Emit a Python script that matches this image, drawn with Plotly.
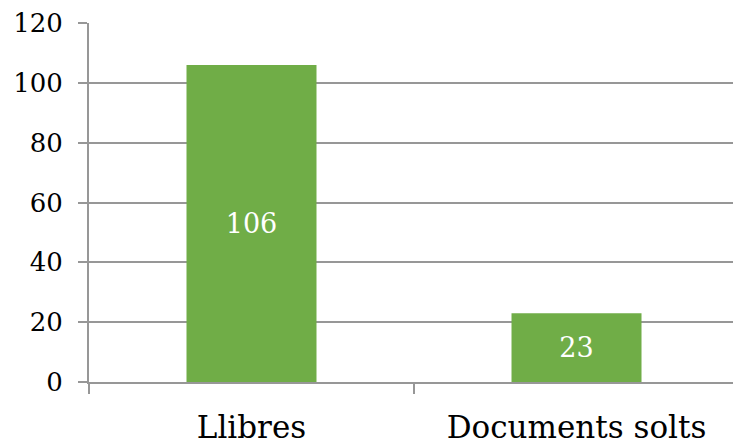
import plotly.graph_objects as go

categories = ["Llibres", "Documents solts"]
values = [106, 23]
y_ticks = [0, 20, 40, 60, 80, 100, 120]

GREEN = "#70AD47"
GRID = "#979797"
FONT = "DejaVu Serif"

fig = go.Figure(
    go.Bar(
        x=categories,
        y=values,
        width=0.4,
        marker=dict(color=GREEN, line=dict(width=0)),
        text=[str(v) for v in values],
        textposition="inside",
        insidetextanchor="middle",
        textfont=dict(family=FONT, size=27, color="white"),
        cliponaxis=False,
    )
)

fig.update_layout(
    width=733,
    height=445,
    margin=dict(l=89, r=0, t=23, b=63),
    paper_bgcolor="white",
    plot_bgcolor="white",
    showlegend=False,
    font=dict(family=FONT, color="black"),
)

fig.update_xaxes(
    type="category",
    range=[-0.5, 1.4815],
    showline=True,
    linecolor=GRID,
    linewidth=2,
    showgrid=False,
    ticks="outside",
    tickson="boundaries",
    ticklen=10,
    tickwidth=2,
    tickcolor=GRID,
    tickfont=dict(family=FONT, size=31, color="black"),
    ticklabelstandoff=17,
    zeroline=False,
)

fig.update_yaxes(
    range=[0, 120],
    tickvals=y_ticks,
    showline=True,
    linecolor=GRID,
    linewidth=2,
    showgrid=True,
    gridcolor=GRID,
    gridwidth=2,
    ticks="outside",
    ticklen=9,
    tickwidth=2,
    tickcolor=GRID,
    tickfont=dict(family=FONT, size=26, color="black"),
    ticklabelstandoff=10,
    zeroline=False,
)

fig.write_html("out.html")
